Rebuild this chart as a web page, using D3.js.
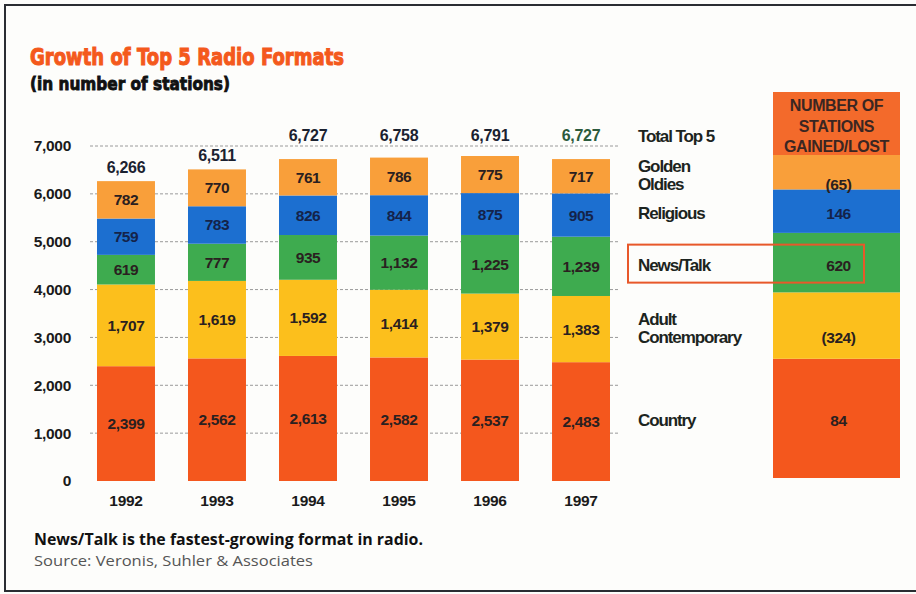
<!DOCTYPE html>
<html>
<head>
<meta charset="utf-8">
<script src="https://cdn.jsdelivr.net/npm/d3@7"></script>
<style>
  html, body { margin: 0; padding: 0; background: #fdfdfb; }
  svg { display: block; }
</style>
</head>
<body>
<svg id="chart" width="916" height="594"></svg>
<script>
// Station counts per format, by year
const years = ["1992", "1993", "1994", "1995", "1996", "1997"];
const formats = ["Country", "Adult Contemporary", "News/Talk", "Religious", "Golden Oldies"];
const country = [2399, 2562, 2613, 2582, 2537, 2483];
const adultContemporary = [1707, 1619, 1592, 1414, 1379, 1383];
const newsTalk = [619, 777, 935, 1132, 1225, 1239];
const religious = [759, 783, 826, 844, 875, 905];
const goldenOldies = [782, 770, 761, 786, 775, 717];
const totals = [6266, 6511, 6727, 6758, 6791, 6727];
const gainedLost = [84, -324, 620, 146, -65];
const yTicks = [0, 1000, 2000, 3000, 4000, 5000, 6000, 7000];

const colors = ["#f4571d", "#fcbf1c", "#3eab4f", "#1c6fd0", "#f99f3a"];
const labelLines = {
  "Country": ["Country"],
  "Adult Contemporary": ["Adult", "Contemporary"],
  "News/Talk": ["News/Talk"],
  "Religious": ["Religious"],
  "Golden Oldies": ["Golden", "Oldies"]
};

const series = [country, adultContemporary, newsTalk, religious, goldenOldies];
const rows = years.map((yr, i) => {
  const r = { year: yr };
  formats.forEach((f, k) => { r[f] = series[k][i]; });
  return r;
});
const stacked = d3.stack().keys(formats)(rows);

const svg = d3.select("#chart");
const bold = "'Liberation Sans', Arial, sans-serif";
const heavy = "'DejaVu Sans', sans-serif";

// frame
svg.append("path")
  .attr("d", "M916,5 H5 V591 H916")
  .attr("fill", "none").attr("stroke", "#2a2d33").attr("stroke-width", 2);

// titles (stroked to get a black weight)
svg.append("text").attr("x", 30).attr("y", 65)
  .attr("textLength", 314).attr("lengthAdjust", "spacingAndGlyphs")
  .style("font-family", heavy)
  .style("font-weight", "bold").style("font-size", "23px")
  .attr("fill", "#f4591c").attr("stroke", "#f4591c").attr("stroke-width", 1.1)
  .text("Growth of Top 5 Radio Formats");
svg.append("text").attr("x", 30).attr("y", 90)
  .attr("textLength", 200).attr("lengthAdjust", "spacingAndGlyphs")
  .style("font-family", heavy)
  .style("font-weight", "bold").style("font-size", "18px")
  .attr("fill", "#111").attr("stroke", "#111").attr("stroke-width", 0.9)
  .text("(in number of stations)");

// scales
const x = d3.scaleBand().domain(years).range([97, 610]).paddingInner(0.363).paddingOuter(0);
const y = d3.scaleLinear().domain([0, 7000]).range([481, 146]);

// gridlines
svg.append("g").selectAll("line")
  .data(yTicks.filter(t => t > 0))
  .join("line")
  .attr("x1", 90).attr("x2", 620)
  .attr("y1", d => y(d)).attr("y2", d => y(d))
  .attr("stroke", "#9a9a9a").attr("stroke-width", 1).attr("stroke-dasharray", "3,2");

// y axis labels
const yAxis = d3.axisLeft(y).tickValues(yTicks).tickSize(0).tickPadding(0)
  .tickFormat(d3.format(","));
const gy = svg.append("g").attr("transform", "translate(71,0)").call(yAxis);
gy.select(".domain").remove();
gy.selectAll("text").style("font-family", bold).style("font-weight", "bold")
  .style("font-size", "15.5px").style("letter-spacing", "-0.3px").attr("fill", "#1a1a1a");

// x axis labels
const xAxis = d3.axisBottom(x).tickSize(0).tickPadding(0);
const gx = svg.append("g").attr("transform", "translate(0,495)").call(xAxis);
gx.select(".domain").remove();
gx.selectAll("text").style("font-family", bold).style("font-weight", "bold")
  .style("font-size", "15.5px").style("letter-spacing", "-0.3px").attr("fill", "#1a1a1a");

// stacked bars
const layers = svg.append("g").selectAll("g")
  .data(stacked).join("g").attr("fill", (d, i) => colors[i]);
layers.selectAll("rect")
  .data(d => d).join("rect")
  .attr("x", d => x(d.data.year))
  .attr("width", x.bandwidth())
  .attr("y", d => y(d[1]))
  .attr("height", d => y(d[0]) - y(d[1]));

// segment value labels
const fmt = d3.format(",");
const segLabels = svg.append("g");
stacked.forEach((layer, k) => {
  segLabels.selectAll(null).data(layer).join("text")
    .attr("x", d => x(d.data.year) + x.bandwidth() / 2)
    .attr("y", d => (y(d[0]) + y(d[1])) / 2 + 5.5)
    .attr("text-anchor", "middle")
    .style("font-family", bold).style("font-weight", "bold").style("font-size", "15.5px")
    .style("letter-spacing", "-0.4px")
    .attr("fill", k === 3 ? "#14234a" : "#2a2020")
    .text(d => fmt(d.data[formats[k]]));
});

// totals: just above the bar when there is room under the top gridline
const topLine = y(7000);
svg.append("g").selectAll("text")
  .data(totals).join("text")
  .attr("x", (d, i) => x(years[i]) + x.bandwidth() / 2)
  .attr("y", d => (y(d) - 19 > topLine) ? y(d) - 8 : topLine - 5)
  .attr("text-anchor", "middle")
  .style("font-family", bold).style("font-weight", "bold").style("font-size", "16px")
  .style("letter-spacing", "-0.3px")
  .attr("fill", (d, i) => i === totals.length - 1 ? "#2c5a3c" : "#1b2230")
  .text(d => fmt(d));

// gained/lost column, scaled to the 1997 stack
const last = rows.length - 1;
const colX = 773, colW = 127;
const yc = d3.scaleLinear().domain([0, totals[last]]).range([478, 155]);
const colStack = stacked.map(layer => layer[last]);

svg.append("rect").attr("x", colX).attr("y", 92).attr("width", colW).attr("height", yc(totals[last]) - 92)
  .attr("fill", "#f36a2b");
["NUMBER OF", "STATIONS", "GAINED/LOST"].forEach((t, i) => {
  svg.append("text").attr("x", colX + colW / 2).attr("y", 111 + i * 20.5)
    .attr("text-anchor", "middle")
    .style("font-family", bold).style("font-weight", "bold").style("font-size", "16px")
    .style("letter-spacing", "-0.4px").attr("fill", "#3a2622").text(t);
});

svg.append("g").selectAll("rect")
  .data(colStack).join("rect")
  .attr("x", colX).attr("width", colW)
  .attr("y", d => yc(d[1]))
  .attr("height", d => yc(d[0]) - yc(d[1]))
  .attr("fill", (d, i) => colors[i]);

const signed = v => v < 0 ? `(${-v})` : `${v}`;
const legendX = 638;
colStack.forEach((d, i) => {
  const lines = labelLines[formats[i]];
  const mid = (yc(d[0]) + yc(d[1])) / 2;
  const first = mid + 8 - (lines.length - 1) * 8.5;
  lines.forEach((t, j) => {
    svg.append("text").attr("x", legendX).attr("y", first + j * 18)
      .style("font-family", bold).style("font-weight", "bold").style("font-size", "17px")
      .style("letter-spacing", "-1.1px").attr("fill", "#1c2420").text(t);
  });
  svg.append("text").attr("x", colX + colW / 2 + 2)
    .attr("y", first + (lines.length - 1) * 18)
    .attr("text-anchor", "middle")
    .style("font-family", bold).style("font-weight", "bold").style("font-size", "15.5px")
    .style("letter-spacing", "-0.4px")
    .attr("fill", i === 3 ? "#14234a" : "#2a2020")
    .text(signed(gainedLost[i]));
  if (formats[i] === "News/Talk") {
    svg.append("rect").attr("x", 628).attr("y", mid - 18).attr("width", 236).attr("height", 38)
      .attr("fill", "none").attr("stroke", "#e8582a").attr("stroke-width", 2);
  }
});

svg.append("text").attr("x", legendX).attr("y", topLine - 4)
  .style("font-family", bold).style("font-weight", "bold").style("font-size", "17px")
  .style("letter-spacing", "-1.1px").attr("fill", "#1c2420").text("Total Top 5");

// footnotes
svg.append("text").attr("x", 34).attr("y", 545)
  .attr("textLength", 389).attr("lengthAdjust", "spacingAndGlyphs")
  .style("font-family", "'Open Sans', sans-serif").style("font-weight", "bold")
  .style("font-size", "15.5px").attr("fill", "#111")
  .text("News/Talk is the fastest-growing format in radio.");
svg.append("text").attr("x", 34).attr("y", 566)
  .attr("textLength", 279).attr("lengthAdjust", "spacingAndGlyphs")
  .style("font-family", "'Open Sans', sans-serif")
  .style("font-size", "14.5px").attr("fill", "#555")
  .text("Source: Veronis, Suhler & Associates");
</script>
</body>
</html>
